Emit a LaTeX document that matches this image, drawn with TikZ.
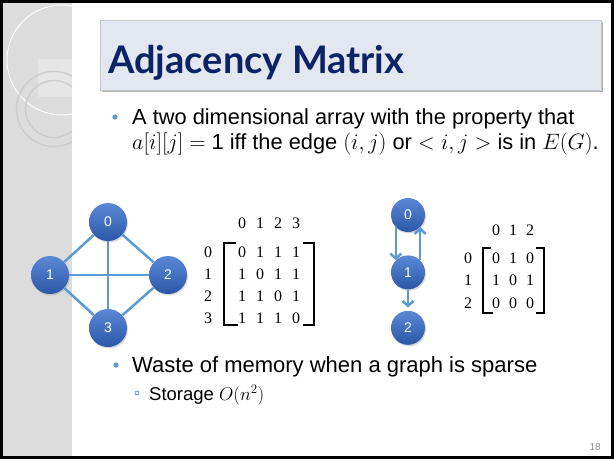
\documentclass[tikz,border=0pt]{standalone}
\usepackage{fix-cm}
\usepackage{fontspec}
\setmainfont{Liberation Sans}
\newfontfamily\titlefont{Lato}
\newfontfamily\digitfont{Liberation Serif}
\usepackage{xcolor}
\usepackage{tikz}
\usetikzlibrary{arrows.meta,positioning,shadows}
\definecolor{titleNavy}{HTML}{0C2366}
\definecolor{titleFill}{HTML}{E3E8F0}
\definecolor{stripGray}{HTML}{DCDCDC}
\definecolor{edgeBlue}{HTML}{5B9BD5}
\definecolor{nodeTop}{HTML}{5A88D6}
\definecolor{nodeBottom}{HTML}{2C57A8}
\definecolor{pageGray}{HTML}{8C8C8C}
\newcommand{\bigmath}[1]{{\fontsize{22.2}{24}\selectfont$#1$}}

\begin{document}
\begin{tikzpicture}[x=1pt, y=-1pt,
  vtx/.style={circle, minimum size=38pt, inner sep=0pt, top color=nodeTop, bottom color=nodeBottom, text=white, font=\fontsize{14}{14}\selectfont, drop shadow={opacity=0.3, shadow xshift=1pt, shadow yshift=-1.5pt}},
  lnk/.style={draw=edgeBlue, line width=2.5pt},
  dlnk/.style={lnk, -{Straight Barb[length=5pt, width=11pt]}},
  dig/.style={inner sep=0pt, font=\digitfont\fontsize{16}{16}\selectfont},
  brk/.style={draw=black, line width=1.1pt},
  txt/.style={anchor=base west, inner sep=0pt, font=\fontsize{21.8}{24}\selectfont}
]
\useasboundingbox (0,0) rectangle (614,459);
\fill[white] (0,0) rectangle (614,459);
% left strip
\fill[stripGray] (3,3) rectangle (72,456);
\begin{scope}
  \clip (3,3) rectangle (72,456);
  \fill[white, opacity=0.3] (38,59) rectangle (80,97);
  \draw[white, line width=1pt] (62,60) circle (55pt);
  \draw[gray!40, line width=1.4pt] (54,109) circle (37.5pt);
  \draw[gray!40, line width=1.4pt] (54,109) circle (28.5pt);
\end{scope}
% title
\fill[gray!60] (102,22) rectangle (603,92);
\filldraw[fill=titleFill, draw=gray!45, line width=1pt] (100,20) rectangle (601,90);
\node[anchor=base west, inner sep=0pt, text=titleNavy, font=\titlefont\bfseries\fontsize{38}{38}\selectfont] (title) at (108,73) {Adjacency Matrix};
% bullets
\fill[edgeBlue] (115,117) circle (2.6pt);
\node[txt] (line1) at (132,124) {A two dimensional array with the property that};
\node[txt] (line2) at (132,149) {\bigmath{a[i][j] =} 1 iff the edge \bigmath{(i,j)} or \bigmath{<i,j>} is in \bigmath{E(G)}.};
\fill[edgeBlue] (116,365) circle (2.6pt);
\node[txt, font=\fontsize{22}{24}\selectfont] (waste) at (132,372) {Waste of memory when a graph is sparse};
\draw[edgeBlue, line width=0.8pt] (137,393) circle (2pt);
\node[txt, font=\fontsize{18.5}{20}\selectfont] (storage) at (149,400) {Storage $O(n^2)$};
\node[anchor=base east, inner sep=0pt, text=pageGray, font=\fontsize{10}{10}\selectfont] (pnum) at (601,450) {18};

% undirected graph
\node[vtx] (a0) at (108,222) {0};
\node[vtx] (a1) at (50,275) {1};
\node[vtx] (a2) at (168,275) {2};
\node[vtx] (a3) at (108,328) {3};
\foreach \s/\t in {a0/a1,a0/a2,a0/a3,a1/a2,a1/a3,a2/a3} \draw[lnk] (\s) -- (\t);

% matrix of the undirected graph
\foreach \i in {0,...,3} {
  \node[dig] (ma-h\i) at (242+18*\i,223) {\i};
  \node[dig] (ma-l\i) at (208,252+22*\i) {\i};
}
\foreach \row [count=\r from 0] in {{0,1,1,1},{1,0,1,1},{1,1,0,1},{1,1,1,0}}
  \foreach \v [count=\c from 0] in \row
    \node[dig] (ma-\r-\c) at (242+18*\c,252+22*\r) {\v};
\draw[brk] (236,243) -- (224,243) -- (224,325) -- (238,325);
\draw[brk] (303,243) -- (314,243) -- (314,325) -- (303,325);

% directed graph
\node[vtx, minimum size=34pt] (b0) at (408,215) {0};
\node[vtx, minimum size=34pt, below=23pt of b0] (b1) {1};
\node[vtx, minimum size=34pt, below=21pt of b1] (b2) {2};
\draw[dlnk] (b0.-135) -- (b1.135);
\draw[dlnk] (b1.45) -- (b0.-45);
\draw[dlnk, shorten >=3pt] (b1) -- (b2);

% matrix of the directed graph
\foreach \i in {0,...,2} {
  \node[dig] (mb-h\i) at (496+17*\i,230) {\i};
  \node[dig] (mb-l\i) at (468,258+22.5*\i) {\i};
}
\foreach \row [count=\r from 0] in {{0,1,0},{1,0,1},{0,0,0}}
  \foreach \v [count=\c from 0] in \row
    \node[dig] (mb-\r-\c) at (496+17*\c,258+22.5*\r) {\v};
\draw[brk] (491,248) -- (483,248) -- (483,313) -- (493,313);
\draw[brk] (536,248) -- (544,248) -- (544,313) -- (536,313);

% frame
\draw[line width=3pt] (1.5,1.5) rectangle (612.5,457.5);
\end{tikzpicture}
\end{document}
